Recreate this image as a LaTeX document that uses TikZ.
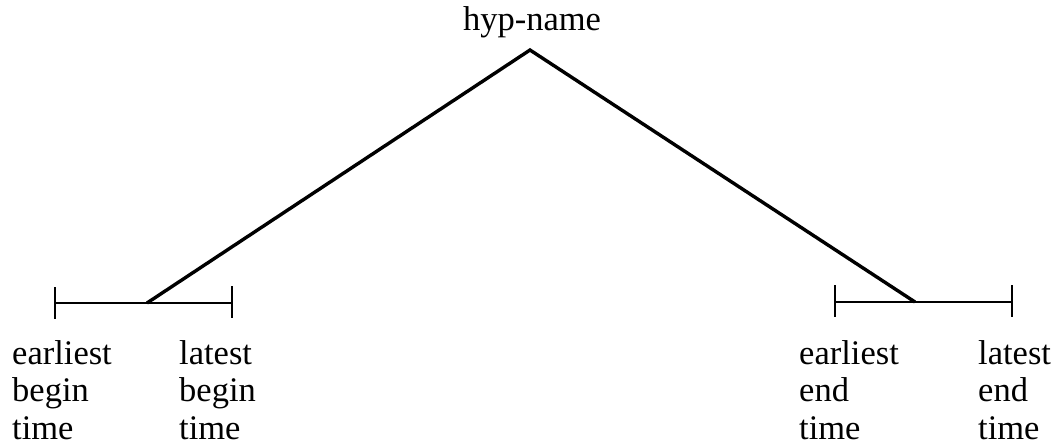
\documentclass[tikz,border=0pt]{standalone}
\usepackage{fontspec}
\setmainfont{Liberation Serif}
\begin{document}
\begin{tikzpicture}[x=1pt,y=-1pt,
  lbl/.style={anchor=north west,inner sep=0pt,align=left,font=\fontsize{34.5}{37.5}\selectfont},
  hline/.style={line width=2.2pt},
  slant/.style={line width=3.4pt},
  tick/.style={line width=2.2pt}]
\useasboundingbox (0,0) rectangle (1060,445);
% top label
\node[anchor=base,inner sep=0pt,font=\fontsize{34.5}{37.5}\selectfont] (hyp) at (532,30) {hyp-name};
\coordinate (apex) at (530,50);
% left interval
\coordinate (lt1) at (55,287);  \coordinate (lb1) at (55,319);
\coordinate (rt1) at (232,286); \coordinate (rb1) at (232,318);
\coordinate (l1) at (55,303); \coordinate (r1) at (232,303);
\coordinate (m1) at (147,303);
% right interval
\coordinate (lt2) at (835,285); \coordinate (lb2) at (835,317);
\coordinate (rt2) at (1012,285); \coordinate (rb2) at (1012,317);
\coordinate (l2) at (835,302); \coordinate (r2) at (1012,302);
\coordinate (m2) at (915,302);
\draw[tick] (lt1) -- (lb1);
\draw[tick] (rt1) -- (rb1);
\draw[hline] (l1) -- (r1);
\draw[tick] (lt2) -- (lb2);
\draw[tick] (rt2) -- (rb2);
\draw[hline] (l2) -- (r2);
\draw[slant,line join=miter] (m1) -- (apex) -- (m2);
% labels
\node[lbl] (eb) at (12,340) {earliest\\begin\\time};
\node[lbl] (lb) at (179,340) {latest\\begin\\time};
\node[lbl] (ee) at (799,340) {earliest\\end\\time};
\node[lbl] (le) at (978,340) {latest\\end\\time};
\end{tikzpicture}
\end{document}
